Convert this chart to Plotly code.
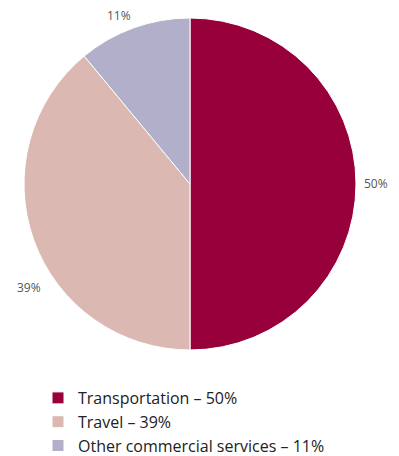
import plotly.graph_objects as go

categories = ["Transportation", "Travel", "Other commercial services"]
shares = [50, 39, 11]
colors = ["#97003a", "#dbb9b2", "#b1afc9"]

legend_labels = [f"{c} – {v}%" for c, v in zip(categories, shares)]
pct_labels = [f"{v}%" for v in shares]

W, H = 399, 456

fig = go.Figure(go.Pie(
    labels=legend_labels,
    values=shares,
    sort=False,
    direction="clockwise",
    rotation=0,
    marker=dict(colors=colors, line=dict(color="white", width=1)),
    textinfo="none",
    hoverinfo="label",
    domain=dict(x=[24 / W, 356 / W], y=[1 - 350 / H, 1 - 18 / H]),
))

label_pos = [(376, 184), (28.5, 287), (119, 15)]
for txt, (px, py) in zip(pct_labels, label_pos):
    fig.add_annotation(x=px / W, y=1 - py / H, xref="paper", yref="paper",
                       text=txt, showarrow=False, xanchor="center", yanchor="middle",
                       font=dict(size=12, color="#555555", family="Open Sans"))

fig.update_layout(
    width=W, height=H,
    margin=dict(l=0, r=0, t=0, b=0, autoexpand=False),
    paper_bgcolor="white",
    showlegend=True,
    legend=dict(x=38 / W, y=1 - 381 / H, xanchor="left", yanchor="top",
                font=dict(size=16, color="#222222", family="Open Sans"),
                tracegroupgap=0, itemclick=False),
    font=dict(family="Open Sans"),
)

fig.write_html("out.html", config={"displayModeBar": False},
               post_script="document.body.style.margin='0';document.body.style.overflow='hidden';")
